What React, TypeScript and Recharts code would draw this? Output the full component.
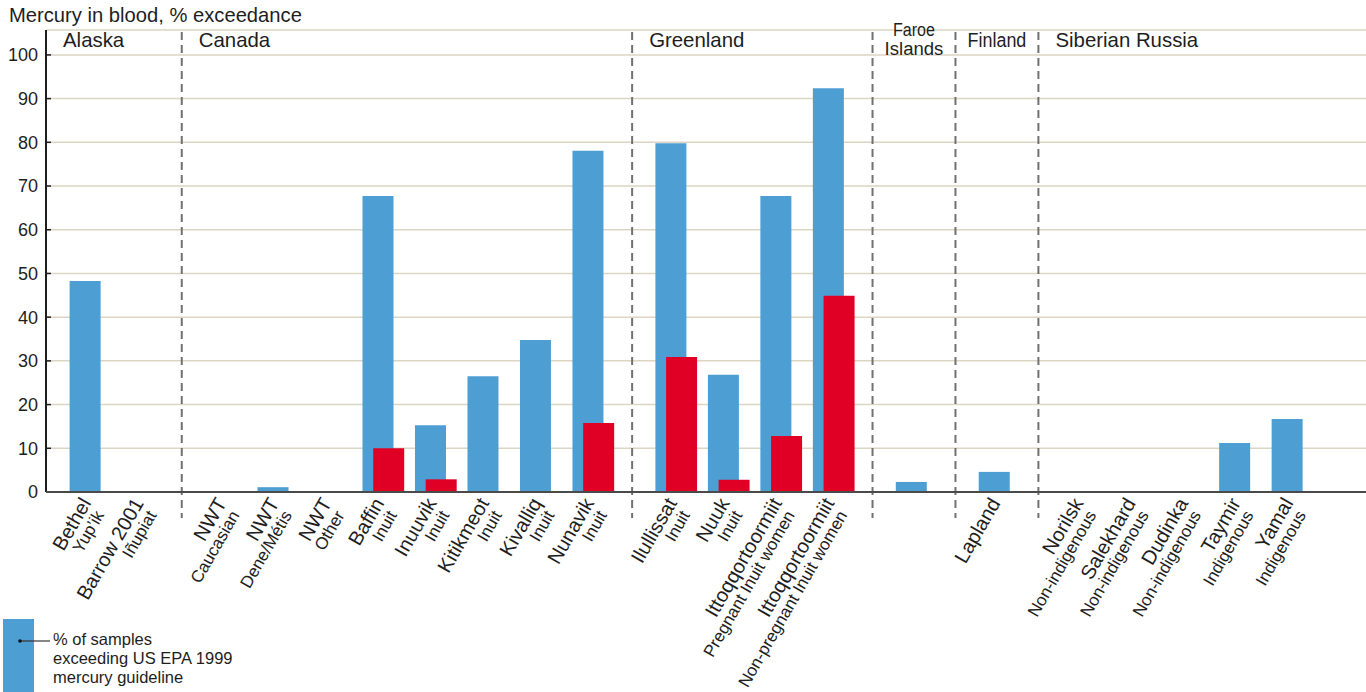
import React from "react";
import { BarChart, Bar, XAxis, YAxis, CartesianGrid, ReferenceLine } from "recharts";

// ---- data ----
const categories = [
  "Bethel", "Barrow 2001", "NWT", "NWT", "NWT", "Baffin", "Inuuvik", "Kitikmeot", "Kivalliq", "Nunavik",
  "Ilullissat", "Nuuk", "Ittoqqortoormiit", "Ittoqqortoormiit", "", "Lapland",
  "Norilsk", "Salekhard", "Dudinka", "Taymir", "Yamal",
];
const subtitles = [
  "Yup’ik", "Iñupiat", "Caucasian", "Dene/Métis", "Other", "Inuit", "Inuit", "Inuit", "Inuit", "Inuit",
  "Inuit", "Inuit", "Pregnant Inuit women", "Non-pregnant Inuit women", "", "",
  "Non-indigenous", "Non-indigenous", "Non-indigenous", "Indigenous", "Indigenous",
];
const regionOf = [0, 0, 1, 1, 1, 1, 1, 1, 1, 1, 2, 2, 2, 2, 3, 4, 5, 5, 5, 5, 5];
const regionLabels = [["Alaska"], ["Canada"], ["Greenland"], ["Faroe", "Islands"], ["Finland"], ["Siberian Russia"]];
const exceedEPA = [48.3, 0, 0, 1.1, 0, 67.7, 15.3, 26.5, 34.8, 78.1, 79.8, 26.8, 67.7, 92.4, 2.3, 4.6, 0, 0, 0, 11.2, 16.7];
const exceedOther = [null, null, null, null, null, 10, 2.9, null, null, 15.8, 30.9, 2.8, 12.8, 44.9, null, null, null, null, null, null, null];
const yTicks = [0, 10, 20, 30, 40, 50, 60, 70, 80, 90, 100];
const legendLines = ["% of samples", "exceeding US EPA 1999", "mercury guideline"];

// ---- layout constants ----
const W = 1366;
const H = 692;
const PLOT_LEFT = 46;
const PLOT_TOP = 30;
const PLOT_BOTTOM = 492;
const GAP = 0.58; // extra slot space between regions
const X_DOMAIN: [number, number] = [-0.8544, 24.293];
const Y_DOMAIN: [number, number] = [0, 105.7];
const BLUE = "#4d9fd3";
const RED = "#e10025";
const FONT = "'Liberation Sans', Arial, Helvetica, sans-serif";
const TEXT = "#1e1e1e";

const positions = categories.map((_, i) => i + regionOf[i] * GAP);
const data = categories.map((c, i) => ({
  pos: positions[i],
  name: c,
  epa: exceedEPA[i],
  other: exceedOther[i],
}));

// dividers after the last category of each region
const dividerPos: number[] = [];
for (let i = 0; i < categories.length - 1; i++) {
  if (regionOf[i + 1] !== regionOf[i]) dividerPos.push(positions[i] + 0.5 + 0.4 * GAP);
}

const xPix = (p: number) => PLOT_LEFT + ((p - X_DOMAIN[0]) / (X_DOMAIN[1] - X_DOMAIN[0])) * (W - PLOT_LEFT);

const CategoryTick = (props: any) => {
  const { x, y, payload } = props;
  const i = positions.findIndex((p) => Math.abs(p - payload.value) < 1e-6);
  if (i < 0) return null;
  const ax = x + 1;
  const ay = y + 11;
  return (
    <g transform={`translate(${ax},${ay}) rotate(-60)`}>
      <text x={0} y={0} textAnchor="end" fontSize={20} fill={TEXT} fontFamily={FONT}>
        {categories[i]}
      </text>
      <text x={-4} y={17} textAnchor="end" fontSize={17} fill={TEXT} fontFamily={FONT}>
        {subtitles[i]}
      </text>
    </g>
  );
};

const DividerShape = (props: any) => {
  const { x1 } = props;
  return <line x1={x1} x2={x1} y1={32} y2={518} stroke="#717171" strokeWidth={2} strokeDasharray="8 5" />;
};

export default function App() {
  const regionStarts = [PLOT_LEFT, ...dividerPos.map(xPix)];
  const regionEnds = [...dividerPos.map(xPix), W];
  return (
    <div style={{ position: "absolute", left: 0, top: 0, width: W, height: H, background: "#fff" }}>
      <div style={{ position: "absolute", left: 0, top: 0 }}>
        <BarChart
          width={W}
          height={H}
          data={data}
          margin={{ top: PLOT_TOP, right: 0, bottom: 0, left: 0 }}
          barGap={-20.3}
        >
          <CartesianGrid vertical={false} stroke="#ddd5c3" strokeWidth={1.5} />
          <YAxis
            type="number"
            domain={Y_DOMAIN}
            ticks={yTicks}
            allowDataOverflow
            width={PLOT_LEFT}
            axisLine={{ stroke: "#1e1e1e", strokeWidth: 2 }}
            tickLine={{ stroke: "#1e1e1e", strokeWidth: 1.5 }}
            tickSize={-5}
            tickMargin={13}
            tick={{ fontSize: 18, fill: TEXT, fontFamily: FONT }}
            interval={0}
          />
          <XAxis
            type="number"
            dataKey="pos"
            domain={X_DOMAIN}
            allowDataOverflow
            ticks={positions}
            interval={0}
            tickLine={false}
            tickSize={0}
            tickMargin={0}
            axisLine={{ stroke: "#4a4a4a", strokeWidth: 2 }}
            tick={<CategoryTick />}
            height={H - PLOT_BOTTOM}
          />
          {dividerPos.map((p, k) => (
            <ReferenceLine key={k} x={p} shape={<DividerShape />} />
          ))}
          <Bar dataKey="epa" fill={BLUE} barSize={31} isAnimationActive={false} />
          <Bar dataKey="other" fill={RED} barSize={31} isAnimationActive={false} />
        </BarChart>
      </div>
      <svg
        width={W}
        height={H}
        style={{ position: "absolute", left: 0, top: 0, pointerEvents: "none" }}
        fontFamily={FONT}
      >
        <text x={9} y={22} fontSize={20.2} fill={TEXT}>
          Mercury in blood, % exceedance
        </text>
        {regionLabels.map((lines, r) => {
          const narrow = regionEnds[r] - regionStarts[r] < 100;
          if (narrow) {
            const cx = (regionStarts[r] + regionEnds[r]) / 2;
            return lines.map((ln, k) => (
              <text
                key={`${r}-${k}`}
                x={cx}
                y={lines.length === 2 ? 36 + k * 19 : 47}
                fontSize={lines.length === 2 ? 18 : 20}
                fill={TEXT}
                textAnchor="middle"
                textLength={ln.length * 8.4}
                lengthAdjust="spacingAndGlyphs"
              >
                {ln}
              </text>
            ));
          }
          return (
            <text key={r} x={regionStarts[r] + 17} y={47} fontSize={20.4} fill={TEXT}>
              {lines.join(" ")}
            </text>
          );
        })}
        <rect x={3} y={619} width={31} height={73} fill={BLUE} />
        <line x1={20} y1={641} x2={50} y2={641} stroke="#333" strokeWidth={1.2} />
        <circle cx={20} cy={641} r={1.8} fill="#111" />
        {legendLines.map((ln, k) => (
          <text key={k} x={53} y={645 + k * 19} fontSize={16.5} fill={TEXT}>
            {ln}
          </text>
        ))}
      </svg>
    </div>
  );
}
